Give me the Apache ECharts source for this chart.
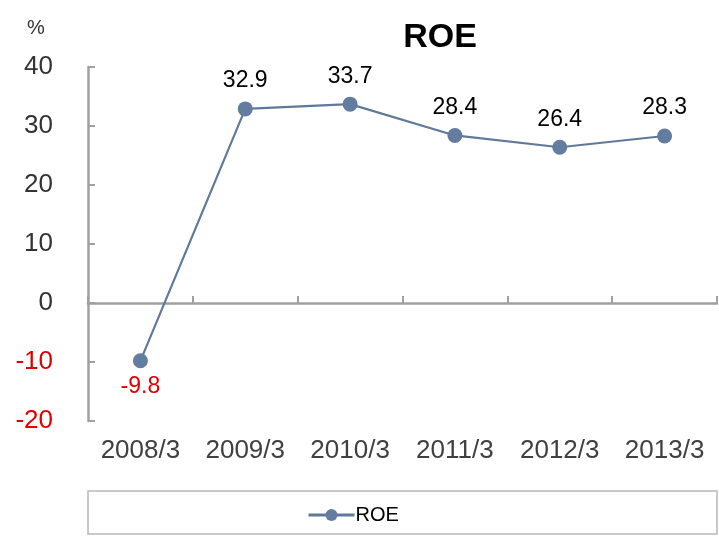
<!DOCTYPE html>
<html>
<head>
<meta charset="utf-8">
<script src="https://cdn.jsdelivr.net/npm/echarts@6/dist/echarts.min.js"></script>
<style>html,body{margin:0;padding:0;background:#fff}#c{width:719px;height:536px}</style>
</head>
<body>
<div id="c"></div>
<script>
const categories = ['2008/3','2009/3','2010/3','2011/3','2012/3','2013/3'];
const roeValues = [-9.8, 32.9, 33.7, 28.4, 26.4, 28.3];
const seriesName = 'ROE';
const titleText = 'ROE';
const unitText = '%';

const chart = echarts.init(document.getElementById('c'));
const font = 'Arial, "Liberation Sans", sans-serif';
chart.setOption({
  animation: false,
  textStyle: { fontFamily: font },
  title: {
    text: titleText, left: 435, top: 16, textAlign: 'center',
    textStyle: { fontSize: 34, fontWeight: 'bold', color: '#000', fontFamily: font }
  },
  graphic: [
    { type: 'text', left: 27, top: 18, style: { text: unitText, fontSize: 20, fill: '#333', fontFamily: font } },
    { type: 'rect', shape: { x: 88, y: 491, width: 629, height: 43 }, style: { fill: 'none', stroke: '#b8b8b8', lineWidth: 1.5 }, z: -1 }
  ],
  legend: {
    left: 302, top: 500, itemWidth: 46, itemHeight: 15, itemGap: 6,
    data: [{ name: seriesName }],
    lineStyle: { width: 3 },
    textStyle: { fontSize: 20, color: '#000', fontFamily: font, padding: [0, 0, 0, -4] }
  },
  grid: { left: 88, right: 2, top: 67, bottom: 115, containLabel: false },
  xAxis: [
    {
      type: 'category', data: categories, boundaryGap: true,
      axisLine: { show: true, onZero: true, lineStyle: { color: '#a0a0a0', width: 2.5 } },
      axisTick: { show: true, inside: true, length: 7, lineStyle: { color: '#a0a0a0', width: 2 } },
      axisLabel: { show: false }, splitLine: { show: false }
    },
    {
      type: 'category', data: categories, boundaryGap: true, position: 'bottom',
      axisLine: { show: false, onZero: false }, axisTick: { show: false },
      axisLabel: { show: true, margin: 17, fontSize: 26, color: '#404040', fontFamily: font },
      splitLine: { show: false }
    }
  ],
  yAxis: {
    type: 'value', min: -20, max: 40, interval: 10,
    axisLine: { show: true, lineStyle: { color: '#a0a0a0', width: 2.5 } },
    axisTick: { show: true, inside: true, length: 7, lineStyle: { color: '#a0a0a0', width: 2 } },
    splitLine: { show: false },
    axisLabel: {
      margin: 35, fontSize: 26, fontFamily: font,
      color: function (v) { return Number(v) < 0 ? '#e00000' : '#333'; }
    }
  },
  series: [{
    name: seriesName, type: 'line', xAxisIndex: 0,
    symbol: 'circle', symbolSize: 15,
    lineStyle: { color: '#60799a', width: 2.2 },
    itemStyle: { color: '#627d9f' },
    label: {
      show: true, fontSize: 23, color: '#000', fontFamily: font,
      position: 'top', distance: 9,
      formatter: function (p) { return p.value.toFixed(1); }
    },
    data: roeValues.map(function (v) {
      return v < 0 ? { value: v, label: { position: 'bottom', color: '#e00000', distance: 7 } } : v;
    })
  }]
});
</script>
</body>
</html>
